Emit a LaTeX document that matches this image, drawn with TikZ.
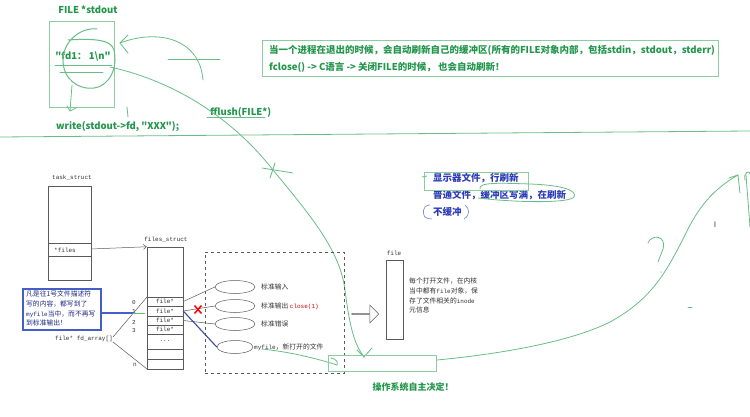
\documentclass[tikz,border=0pt]{standalone}
\usepackage{fontspec}
\newfontfamily\cjk{Noto Sans CJK SC}
\newfontfamily\monof{Liberation Mono}
\usetikzlibrary{shapes.arrows,shapes.geometric,arrows.meta}
\definecolor{gtext}{RGB}{34,150,75}
\definecolor{hand}{RGB}{105,190,135}
\definecolor{gbox}{RGB}{140,205,160}
\definecolor{btext}{RGB}{45,60,185}
\definecolor{bbox}{RGB}{70,95,200}
\definecolor{gline}{RGB}{90,90,90}
\begin{document}
\begin{tikzpicture}[x=1pt,y=-1pt,
  gbold/.style={inner sep=0pt,text=gtext,font=\cjk\bfseries\fontsize{9.5}{11}\selectfont},
  bbold/.style={inner sep=0pt,text=btext,font=\cjk\bfseries\fontsize{9.5}{11}\selectfont},
  mono/.style={inner sep=0pt,text=black!80,font=\monof\fontsize{6}{7}\selectfont},
  small/.style={inner sep=0pt,text=black!80,font=\cjk\fontsize{6.8}{9.6}\selectfont,align=left},
  handln/.style={draw=hand,line width=0.8pt,line cap=round,line join=round},
  thin/.style={draw=gline,line width=0.5pt},
  boxg/.style={draw=gbox,line width=0.8pt,inner sep=0pt},
  ell/.style={draw=gline,line width=0.5pt,ellipse,minimum width=40pt,minimum height=13pt,inner sep=0pt},
]
\useasboundingbox[fill=white] (0,0) rectangle (750,417);

% ---------- top left: FILE *stdout ----------
\node[gbold] (fstd) at (88,10) {FILE *stdout};
\node[boxg,minimum width=65pt,minimum height=86pt] (fbox) at (81.5,64) {};
\node[gbold] (fd1) at (83,57) {"fd1：\ 1\textbackslash n"};
\draw[handln] (55,65) -- (112,65);
\draw[handln] (60,72) -- (103,72);
\coordinate (dn1) at (72,85);
\coordinate (dn2) at (70,111);
\draw[handln] (dn1) -- (dn2);
\draw[handln] (67,106) -- (70,111) -- (76,108);
\draw[handln] (127,107) -- (128,117);
\node[gbold,anchor=west] (wr) at (56,127) {write(stdout->fd, "XXX");};
\coordinate (hl1) at (0,137);
\coordinate (hl2) at (750,131);
\draw[handln] (hl1) -- (hl2);

% fflush arrow
\coordinate (ff1) at (203,80);
\coordinate (ff2) at (120,43);
\draw[handln] (ff1) .. controls (200,40) and (160,28) .. (ff2);
\draw[handln] (128,35) -- (ff2) -- (128,53);
\draw[handln] (168,59) -- (220,59);
\node[gbold,anchor=west] (ffl) at (210,112) {fflush(FILE*)};
\draw[handln] (207,117) -- (265,117);

% long curve from buffer to OS box
\coordinate (cv1) at (110,67);
\coordinate (cv2) at (364,357);
\draw[handln] (cv1) .. controls (170,80) and (230,115) .. (273,170)
  .. controls (310,215) and (340,250) .. (345,290)
  .. controls (350,330) and (355,345) .. (cv2);
\draw[handln] (357,350) -- (cv2) -- (372,348);
\draw[handln] (262,168) -- (293,173);
\draw[handln] (275,163) -- (270,178);

% ---------- top right note ----------
\node[boxg,minimum width=456pt,minimum height=36pt,anchor=north west] (note) at (262,40) {};
\node[gbold,anchor=west] (n1) at (269,50) {当一个进程在退出的时候，会自动刷新自己的缓冲区(所有的FILE对象内部，包括stdin，stdout，stderr)};
\node[gbold,anchor=west] (n2) at (269,67) {fclose() -> C语言 -> 关闭FILE的时候，\ 也会自动刷新！};

% ---------- blue buffering notes ----------
\node[bbold,anchor=west] (b1) at (433,178) {显示器文件，行刷新};
\node[bbold,anchor=west] (b2) at (433,195) {普通文件，缓冲区写满，在刷新};
\node[bbold,anchor=west] (b3) at (433,212) {不缓冲};
\node[boxg,minimum width=104pt,minimum height=18pt] (b1box) at (476,181) {};
\draw[handln] (422,177) -- (427,176);
\draw[handln] (480,189) .. controls (478,182) and (500,183) .. (530,184) .. controls (560,185) and (578,190) .. (574,197) .. controls (570,203) and (520,203) .. (478,198);
\draw[draw=bbox!70,line width=0.7pt,rounded corners=5pt] (430,205) -- (424,205) -- (423,218) -- (432,219);
\draw[draw=bbox!70,line width=0.7pt] (465,205) .. controls (470,209) and (470,215) .. (464,219);

% ---------- task_struct ----------
\node[mono] (tsl) at (72,178) {task\_struct};
\node[thin,draw,minimum width=43pt,minimum height=94pt,inner sep=0pt] (ts) at (69.5,233) {};
\draw[thin] (48,243) -- (91,243);
\draw[thin] (48,256) -- (91,256);
\node[mono,anchor=west] (tsf) at (54,250) {*files};
\coordinate (tsa) at (91,249);

% ---------- files_struct ----------
\node[mono] (fsl) at (166,240) {files\_struct};
\node[thin,draw,minimum width=36pt,minimum height=122pt,inner sep=0pt] (fs) at (165,308) {};
\draw[thin,-{Straight Barb[length=3pt,width=5pt]}] (tsa) -- (fs.north west);
\foreach \y in {297,306,316,325,334,349,359} \draw[thin] (147,\y) -- (183,\y);
\node[mono] (r0) at (165,301.5) {file*};
\node[mono] (r1) at (165,311) {file*};
\node[mono] (r2) at (165,320.5) {file*};
\node[mono] (r3) at (165,329.5) {file*};
\node[mono] (r4) at (165,341) {...};
\node[mono] (i0) at (134,303) {0};
\node[mono] (i1) at (134,312) {1};
\node[mono] (i2) at (134,322) {2};
\node[mono] (i3) at (134,331) {3};
\node[mono] (in) at (135,365) {n};
\node[mono,anchor=east] (fda) at (113,339) {file* fd\_array[]};
\draw[thin] (fda.east) ++(0,-2) -- (147,297);
\draw[thin] (fda.east) ++(0,3) -- (147,369);

% blue note box
\node[draw=bbox,line width=1.2pt,minimum width=78pt,minimum height=41pt,inner sep=0pt] (bn) at (62,309.5) {};
\node[small,text=btext!70!black,anchor=north west] (bnt) at (26,291) {凡是往1号文件描述符\\写的内容，都写到了\\{\monof\fontsize{6}{7}\selectfont myfile}当中，而不再写\\到标准输出！};
\coordinate (bn1) at (133,313);
\draw[draw=bbox,line width=1.4pt] (bn.east |- bn1) -- (bn1);
\draw[handln] (bn1) -- (145,313);

% ---------- dashed area ----------
\node[draw=gline,dashed,line width=0.8pt,minimum width=139pt,minimum height=121pt,inner sep=0pt] (dsh) at (274.5,312.5) {};
\node[ell] (e1) at (235,287) {};
\node[ell] (e2) at (235,306) {};
\node[ell] (e3) at (235,324) {};
\node[ell,minimum width=36pt] (e4) at (235,347) {};
\node[small,anchor=west] (l1) at (261,287) {标准输入};
\node[small,anchor=west] (l2) at (261,306) {标准输出 \textcolor{red!85!black}{\monof\fontsize{6}{7}\selectfont close(1)}};
\node[small,anchor=west] (l3) at (261,324) {标准错误};
\node[small,anchor=west] (l4) at (254,347) {{\monof\fontsize{6}{7}\selectfont myfile}，新打开的文件};
\draw[thin] (r0.east -| fs.east) -- (e1.west);
\draw[thin] (r1.east -| fs.east) -- (e2.west);
\draw[thin] (r2.east -| fs.east) -- (e3.west);
\draw[draw=bbox!80!black,line width=1.1pt] (r1.east -| fs.east) -- (e4.west);
\coordinate (xx) at (198,309.5);
\draw[red,line width=1.5pt] ([shift={(-3.5,-4)}]xx) -- ([shift={(3.5,4)}]xx);
\draw[red,line width=1.5pt] ([shift={(-3.5,4)}]xx) -- ([shift={(3.5,-4)}]xx);

% green line from myfile to OS box
\coordinate (mf2) at (337,365);
\draw[handln] (262,349) .. controls (290,352) and (315,358) .. (mf2);
\draw[handln] (331,358) .. controls (337,359) and (338,363) .. (mf2);

% block arrow and file object
\node[draw=gline,line width=0.5pt,single arrow,minimum width=18pt,minimum height=27pt,single arrow head extend=3pt,inner sep=0pt] (blk) at (365,314) {};
\node[mono] (fl) at (394,253) {file};
\node[thin,draw,minimum width=17pt,minimum height=79pt,inner sep=0pt] (fo) at (394.5,299.5) {};
\node[small,anchor=north west] (fot) at (409,278) {每个打开文件，在内核\\当中都有{\monof\fontsize{6}{7}\selectfont file}对象，保\\存了文件相关的{\monof\fontsize{6}{7}\selectfont inode}\\元信息};

% ---------- OS box ----------
\node[boxg,minimum width=108pt,minimum height=16pt] (os) at (382,363) {};
\node[gbold,font=\cjk\bfseries\fontsize{9}{11}\selectfont] (ost) at (413,387) {操作系统自主决定！};

% long curve to the right
\coordinate (rc1) at (437,360);
\coordinate (rc2) at (738,175);
\draw[handln] (rc1) .. controls (500,354) and (570,342) .. (610,322)
  .. controls (650,300) and (665,275) .. (685,235)
  .. controls (698,208) and (712,190) .. (rc2);
\draw[handln] (729,178) -- (rc2) -- (740,193);
\draw[handln] (746,175) -- (750,227);
\draw[handln] (745,180) .. controls (743,172) and (750,170) .. (750,174);
\draw[handln] (648,243) .. controls (651,234) and (667,235) .. (663,249) -- (658,262);
\fill[hand] (661,272) circle (0.6pt);
\draw[handln] (688,307) -- (692,307);
\node[inner sep=0pt,text=black!70,font=\sffamily\fontsize{8}{8}\selectfont] (cur) at (715,225) {I};

% hand loop round the buffer text (drawn last)
\coordinate (lp0) at (97,29);
\draw[draw=hand,line width=1pt,line cap=round] (lp0) .. controls (80,27) and (63,42) .. (63,60)
  .. controls (63,79) and (78,90) .. (94,88)
  .. controls (110,86) and (118,67) .. (114,50)
  .. controls (111,41) and (100,38) .. (68,40);
\end{tikzpicture}
\end{document}
